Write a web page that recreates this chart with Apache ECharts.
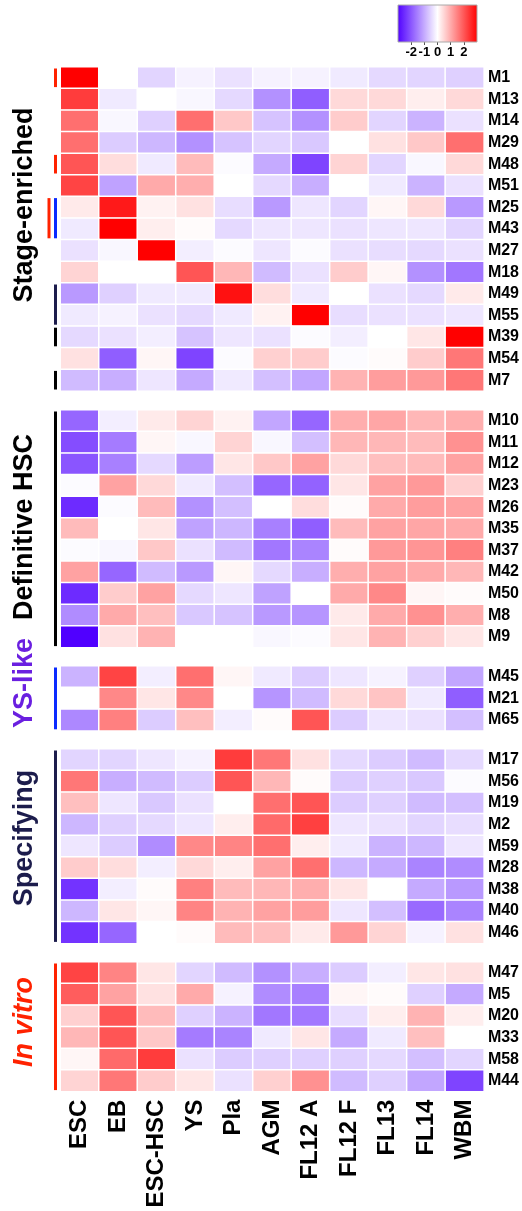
<!DOCTYPE html>
<html><head><meta charset="utf-8">
<script src="https://cdn.jsdelivr.net/npm/echarts@6/dist/echarts.min.js"></script>
<style>html,body{margin:0;padding:0;background:#fff}#c{width:522px;height:1211px}</style>
</head><body><div id="c"></div>
<script>
// ---------------- DATA ----------------
const columns = ['ESC','EB','ESC-HSC','YS','Pla','AGM','FL12 A','FL12 F','FL13','FL14','WBM'];

const stageRows = ['M1','M13','M14','M29','M48','M51','M25','M43','M27','M18','M49','M55','M39','M54','M7'];
const stageValues = [
  [3.0, 0.0,-0.5,-0.15,-0.35,-0.15,-0.15,-0.25,-0.45,-0.5,-0.55],
  [2.3,-0.25,0.0,-0.1,-0.45,-1.3,-1.9,0.45,0.45,0.2,0.45],
  [1.7,-0.1,-0.55,1.7,0.65,-0.7,-1.3,0.6,-0.5,-0.9,-0.35],
  [1.7,-0.6,-0.85,-1.3,-0.7,-0.5,-0.65,0.0,0.35,0.65,1.7],
  [2.0,0.4,-0.25,0.8,-0.05,-1.0,-2.2,0.5,-0.5,-0.1,0.45],
  [2.2,-1.1,1.0,0.95,0.0,-0.45,-0.95,0.0,-0.25,-0.9,-0.35],
  [0.25,2.7,0.15,0.35,-0.4,-1.2,-0.3,-0.5,0.1,0.45,-1.2],
  [-0.25,3.0,0.2,0.05,-0.45,-0.3,-0.3,-0.35,-0.3,-0.3,-0.5],
  [-0.35,-0.1,3.0,-0.2,-0.05,-0.3,-0.05,-0.35,-0.4,-0.45,-0.35],
  [0.5,0.0,0.0,2.0,0.85,-0.8,-0.35,0.6,0.1,-1.3,-1.6],
  [-1.2,-0.55,-0.25,-0.25,2.8,0.4,-0.25,0.0,-0.35,-0.45,0.25],
  [-0.25,-0.15,-0.35,-0.45,-0.25,0.15,3.0,-0.4,-0.35,-0.35,-0.3],
  [-0.45,-0.35,-0.2,-0.7,-0.3,-0.35,-0.05,-0.2,0.0,0.3,3.0],
  [0.35,-1.9,0.1,-2.2,-0.05,0.55,0.6,-0.05,0.05,0.6,1.6],
  [-0.8,-0.95,-0.3,-1.0,-0.25,-0.75,-1.05,0.9,1.15,1.2,1.6]
];

const hscRows = ['M10','M11','M12','M23','M26','M35','M37','M42','M50','M8','M9'];
const hscValues = [
  [-1.8,-0.2,0.25,0.5,0.15,-1.05,-1.8,0.95,1.05,0.85,0.95],
  [-2.1,-1.55,0.1,-0.1,0.5,-0.1,-0.75,0.85,0.85,0.8,1.3],
  [-2.0,-1.5,-0.45,-1.15,0.3,0.65,1.1,0.45,0.75,0.8,1.1],
  [-0.05,1.1,0.45,-0.25,-0.75,-1.8,-1.85,0.3,1.1,1.2,0.55],
  [-2.5,-0.05,0.8,-1.3,-0.75,0.0,0.4,0.05,1.0,1.15,1.1],
  [0.8,0.0,0.3,-1.1,-0.85,-1.5,-1.9,0.8,1.1,1.05,1.0],
  [-0.05,-0.1,0.65,-0.35,-0.8,-1.6,-1.45,0.05,1.2,1.25,1.5],
  [1.1,-1.8,-0.8,-1.2,0.1,-0.45,-0.95,0.95,1.1,1.0,0.85],
  [-2.5,0.6,1.1,-0.45,-0.3,-1.1,0.0,1.0,1.4,0.1,0.05],
  [-1.35,1.0,0.75,-0.65,-0.7,-1.2,-1.25,0.25,1.0,1.3,0.95],
  [-3.0,0.35,0.9,0.0,0.0,-0.1,-0.05,0.3,0.9,0.55,0.3]
];

const ysRows = ['M45','M21','M65'];
const ysValues = [
  [-0.9,2.2,-0.2,1.7,0.1,-0.25,-0.6,-0.3,-0.15,-0.55,-1.05],
  [0.0,1.4,0.3,1.4,0.0,-1.25,-0.8,0.45,0.7,-0.25,-1.9],
  [-1.4,1.5,-0.6,0.75,-0.2,0.05,2.0,-0.6,-0.3,-0.35,-0.75]
];

const specRows = ['M17','M56','M19','M2','M59','M28','M38','M40','M46'];
const specValues = [
  [-0.5,-0.5,-0.3,-0.15,2.3,1.6,0.35,-0.45,-0.6,-0.8,-0.45],
  [1.6,-0.95,-0.8,-0.6,2.0,0.85,0.05,-0.6,-0.55,-0.65,-0.05],
  [0.75,-0.3,-0.65,-0.35,0.0,1.7,2.0,-0.6,-0.55,-0.8,-0.75],
  [-0.85,-0.55,-0.45,-0.3,0.2,1.75,2.25,-0.3,-0.35,-0.5,-0.4],
  [-0.3,-0.6,-1.35,1.4,1.45,1.7,0.2,-0.25,-0.9,-0.85,-0.3],
  [0.6,0.4,-0.2,0.45,0.2,1.1,1.7,-0.85,-1.0,-1.45,-1.35],
  [-2.4,-0.2,0.05,1.5,0.8,0.85,0.95,0.3,0.0,-1.0,-1.2],
  [-0.85,0.3,0.1,1.45,0.9,1.1,1.15,-0.3,-0.75,-1.75,-1.45],
  [-2.4,-1.8,0.0,0.05,0.8,0.75,0.25,1.2,0.5,-0.15,0.35]
];

const vitroRows = ['M47','M5','M20','M33','M58','M44'];
const vitroValues = [
  [2.2,1.45,0.3,-0.5,-0.8,-1.3,-0.95,-0.6,-0.2,0.3,0.35],
  [1.9,1.1,0.35,1.0,-0.15,-1.35,-1.5,0.1,0.05,-0.55,-1.0],
  [0.55,2.0,0.8,-0.55,-0.9,-1.6,-1.6,-0.4,0.2,0.9,0.2],
  [0.85,2.0,0.65,-1.55,-1.45,-0.25,0.3,-1.0,-0.25,0.75,0.0],
  [0.1,1.75,2.3,-0.35,-0.6,-0.55,-0.55,-0.55,-0.45,-0.75,-0.5],
  [0.5,1.6,0.6,0.3,-0.35,0.55,1.3,-0.8,-0.55,-1.05,-2.2]
];

const groupNames = ['Stage-enriched','Definitive HSC','YS-like','Specifying','In vitro'];
// side markers: [firstRow, lastRow, colourKey, slot]
const stageMarkers = [[0,0,'red',0],[4,4,'red',0],[6,7,'red',1],[6,7,'blue',0],[10,11,'navy',0],[12,12,'black',0],[14,14,'black',0]];
const hscMarkers = [[0,10,'black',0]];
const ysMarkers = [[0,2,'blue',0]];
const specMarkers = [[0,8,'navy',0]];
const vitroMarkers = [[0,5,'red',0]];
const legendTicks = [-2,-1,0,1,2];
const scaleMin = -3, scaleMax = 3;

// ---------------- CHART ----------------
const FONT = 'Arial, "Liberation Sans", Helvetica, sans-serif';
const markerColors = {red:'#ff2200', blue:'#0a2aff', navy:'#1c1c4c', black:'#000000'};
const groups = [
  {rows: stageRows, values: stageValues, markers: stageMarkers, top: 67, height: 324},
  {rows: hscRows, values: hscValues, markers: hscMarkers, top: 410, height: 237.6},
  {rows: ysRows, values: ysValues, markers: ysMarkers, top: 666, height: 64.8},
  {rows: specRows, values: specValues, markers: specMarkers, top: 749, height: 194.4},
  {rows: vitroRows, values: vitroValues, markers: vitroMarkers, top: 962, height: 129.6}
];

const grid = [], xAxis = [], yAxis = [], series = [];
groups.forEach((g, i) => {
  grid.push({left: 60.5, right: 37.5, top: g.top, height: g.height});
  const last = i === groups.length - 1;
  xAxis.push({
    type: 'category', data: columns, gridIndex: i, position: 'bottom',
    axisLine: {show: false}, axisTick: {show: false}, splitLine: {show: false},
    axisLabel: {show: last, rotate: 90, interval: 0, fontSize: 24, fontWeight: 'bold',
      color: '#000', fontFamily: FONT, margin: 8}
  });
  yAxis.push({
    type: 'category', data: g.rows, gridIndex: i, inverse: true, position: 'right',
    axisLine: {show: false}, axisTick: {show: false}, splitLine: {show: false},
    axisLabel: {interval: 0, fontSize: 16, fontWeight: 'bold', color: '#000', fontFamily: FONT, margin: 4}
  });
  const data = [];
  g.values.forEach((row, r) => row.forEach((v, c) => data.push([c, r, v])));
  series.push({
    type: 'heatmap', xAxisIndex: i, yAxisIndex: i, data: data,
    itemStyle: {borderColor: '#ffffff', borderWidth: 1.5},
    emphasis: {disabled: true}, animation: false
  });
});
groups.forEach((g, i) => {
  series.push({
    type: 'custom', xAxisIndex: i, yAxisIndex: i, clip: false, silent: true, animation: false,
    data: g.markers.map(m => [m[0], m[1], m[3], m[2]]),
    dimensions: ['r0','r1','slot','col'],
    encode: {x: 2, y: 0},
    renderItem: function (params, api) {
      const m = g.markers[params.dataIndex];
      const a = api.coord([0, m[0]]);
      const b = api.coord([0, m[1]]);
      const sz = api.size([1, 1]);
      const leftEdge = a[0] - sz[0] / 2;
      const cx = leftEdge - (m[3] ? 11.5 : 5);
      const y0 = a[1] - sz[1] / 2 + 1.5;
      const y1 = b[1] + sz[1] / 2 - 1.5;
      return {type: 'rect', shape: {x: cx - 1.5, y: y0, width: 3, height: y1 - y0},
        style: {fill: markerColors[m[2]]}};
    }
  });
});

// colour legend as small grid with a value axis
grid.push({left: 398, top: 5, width: 79, height: 37});
xAxis.push({
  type: 'value', gridIndex: 5, min: scaleMin, max: scaleMax, interval: 1, position: 'bottom',
  axisLine: {show: false}, splitLine: {show: false},
  axisTick: {show: true, length: 3, lineStyle: {color: '#555'}},
  axisLabel: {fontSize: 13, fontWeight: 'bold', color: '#000', fontFamily: FONT, margin: 4,
    showMinLabel: false, showMaxLabel: false,
    formatter: v => legendTicks.indexOf(v) >= 0 ? String(v) : ''}
});
yAxis.push({type: 'value', gridIndex: 5, min: 0, max: 1, show: false});
series.push({
  type: 'custom', xAxisIndex: 5, yAxisIndex: 5, silent: true, animation: false,
  data: [[scaleMin, 1, scaleMax, 0]],
  renderItem: function (params, api) {
    const p0 = api.coord([api.value(0), api.value(1)]);
    const p1 = api.coord([api.value(2), api.value(3)]);
    return {type: 'rect', shape: {x: p0[0], y: p0[1], width: p1[0] - p0[0], height: p1[1] - p0[1]},
      style: {fill: new echarts.graphic.LinearGradient(0, 0, 1, 0, [
        {offset: 0, color: '#5000ff'}, {offset: 0.5, color: '#ffffff'}, {offset: 1, color: '#ff0000'}]),
        stroke: '#aaaaaa', lineWidth: 1}};
  }
});

const titleStyle = [
  {y: 205, color: '#000000', italic: false},
  {y: 527, color: '#000000', italic: false},
  {y: 683, color: '#6a1fe0', italic: false},
  {y: 838, color: '#1c1c4c', italic: false},
  {y: 1022, color: '#ff2200', italic: true}
];
const graphic = groupNames.map((name, i) => ({
  type: 'text', x: 25, y: titleStyle[i].y, rotation: Math.PI / 2, silent: true,
  style: {text: name, fill: titleStyle[i].color, align: 'center', verticalAlign: 'middle',
    font: (titleStyle[i].italic ? 'italic ' : '') + 'bold 27px ' + FONT}
}));

const chart = echarts.init(document.getElementById('c'), null, {renderer: 'canvas'});
chart.setOption({
  backgroundColor: '#ffffff',
  animation: false,
  grid, xAxis, yAxis, series, graphic,
  visualMap: {
    type: 'continuous', min: scaleMin, max: scaleMax, show: false,
    seriesIndex: [0, 1, 2, 3, 4],
    inRange: {color: ['#5000ff', '#ffffff', '#ff0000']}
  }
});
</script></body></html>
